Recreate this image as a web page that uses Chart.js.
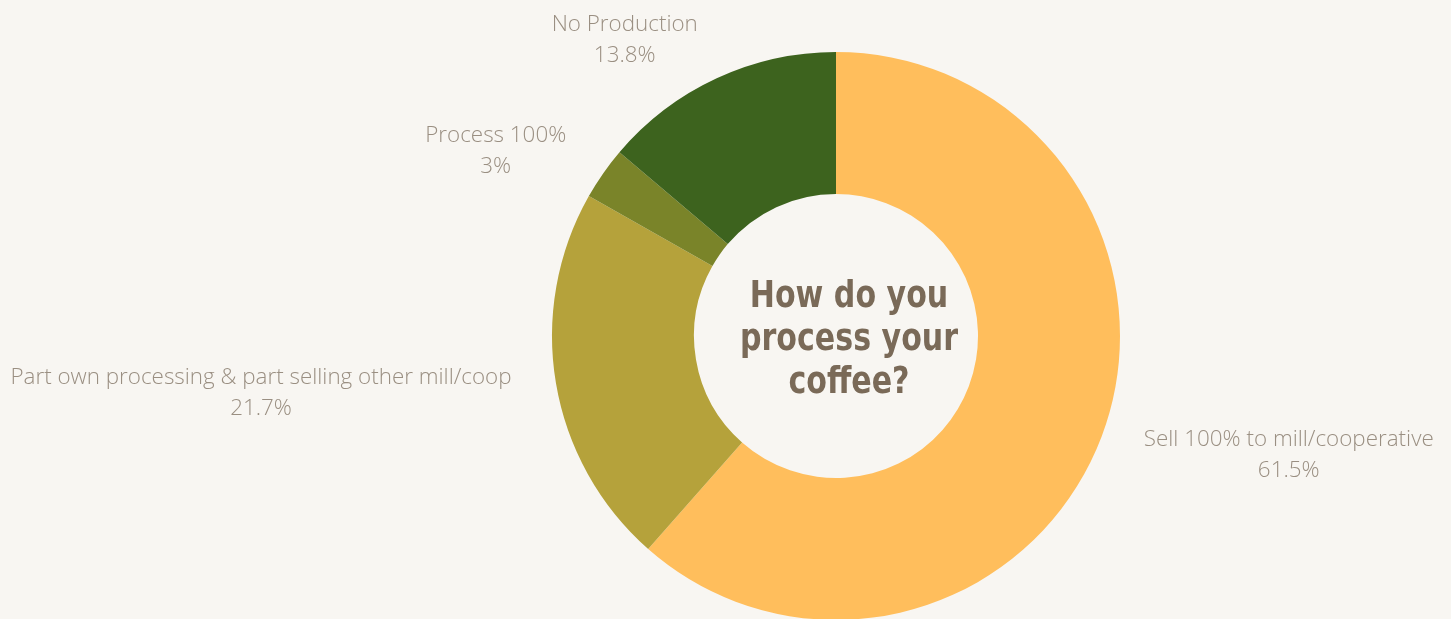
<!DOCTYPE html>
<html>
<head>
<meta charset="utf-8">
<script src="https://cdn.jsdelivr.net/npm/chart.js@4"></script>
<style>
  html, body { margin: 0; padding: 0; background: #f8f6f2; overflow: hidden; }
  #wrap { width: 1451px; height: 640px; position: relative; }
</style>
</head>
<body>
<div id="wrap"><canvas id="donut"></canvas></div>
<script>
const categories = ['Sell 100% to mill/cooperative', 'Part own processing & part selling other mill/coop', 'Process 100%', 'No Production'];
const shares = [61.5, 21.7, 3, 13.8];
const sliceColors = ['#ffbe5c', '#b5a23b', '#7a8429', '#3d631e'];
const centerTitle = ['How do you', 'process your', 'coffee?'];

// labels sit outside each slice, text block pushed away from the ring
const outerLabels = {
  id: 'outerLabels',
  afterDatasetsDraw(chart) {
    const ctx = chart.ctx;
    const meta = chart.getDatasetMeta(0);
    ctx.save();
    ctx.font = '300 22.4px "Open Sans"';
    ctx.fillStyle = '#9a8f82';
    ctx.textBaseline = 'middle';
    meta.data.forEach((arc, i) => {
      const mid = (arc.startAngle + arc.endAngle) / 2;
      const r = arc.outerRadius + 45;
      const ax = arc.x + Math.cos(mid) * r;
      const ay = arc.y + Math.sin(mid) * r;
      const lines = [categories[i], shares[i] + '%'];
      const w = Math.max(...lines.map(l => ctx.measureText(l).width));
      const right = Math.cos(mid) >= 0;
      const cx = right ? ax + w / 2 : ax - w / 2;
      const lh = 31;
      ctx.textAlign = 'center';
      lines.forEach((l, k) => {
        ctx.fillText(l, cx, ay + 3 + (k - (lines.length - 1) / 2) * lh);
      });
    });
    ctx.restore();
  }
};

// title inside the hole, squeezed a little horizontally
const centerText = {
  id: 'centerText',
  afterDatasetsDraw(chart) {
    const ctx = chart.ctx;
    const arc = chart.getDatasetMeta(0).data[0];
    ctx.save();
    ctx.translate(arc.x + 13, arc.y + 14);
    ctx.scale(0.88, 1);
    ctx.font = 'bold 38px "DejaVu Sans Condensed"';
    ctx.fillStyle = '#7a6a58';
    ctx.textAlign = 'center';
    ctx.textBaseline = 'alphabetic';
    const lh = 43;
    centerTitle.forEach((l, k) => {
      ctx.fillText(l, 0, (k - 1) * lh);
    });
    ctx.restore();
  }
};

new Chart(document.getElementById('donut'), {
  type: 'doughnut',
  data: {
    labels: categories,
    datasets: [{
      data: shares,
      backgroundColor: sliceColors,
      borderWidth: 0
    }]
  },
  options: {
    responsive: true,
    maintainAspectRatio: false,
    animation: false,
    cutout: '50%',
    layout: { padding: { top: 52, bottom: 20, left: 221, right: 0 } },
    plugins: {
      legend: { display: false },
      tooltip: { enabled: false }
    }
  },
  plugins: [outerLabels, centerText]
});
</script>
</body>
</html>
